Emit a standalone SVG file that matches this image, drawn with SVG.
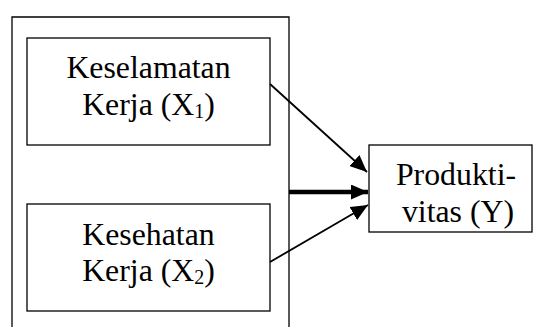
<svg xmlns="http://www.w3.org/2000/svg" width="533" height="327" viewBox="0 0 533 327">
<style>
.box{fill:#fff;stroke:#000;stroke-width:1.3}
.t{font-family:"Liberation Serif","Times New Roman",serif;font-size:31.8px;fill:#000;text-anchor:middle}
.sub{font-size:20px}
.ln{stroke:#000;stroke-width:1.8;fill:none}
.thick{stroke:#000;stroke-width:4.5;fill:none}
</style>
<defs>
<marker id="ah" viewBox="0 0 17 15" refX="17" refY="7.5" markerUnits="userSpaceOnUse" markerWidth="17" markerHeight="15" orient="auto">
<path d="M0,0 L17,7.5 L0,15 z" fill="#000"/>
</marker>
</defs>
<rect width="533" height="327" fill="#fff"/>
<g id="outer"><path class="box" d="M12,330 V17 H289 V330" fill="none"/></g>
<g id="x1">
<rect class="box" x="27" y="38" width="243" height="107"/>
<text class="t" x="148.5" y="78">Keselamatan</text>
<text class="t" x="148.5" y="115">Kerja (X<tspan class="sub" dy="3">1</tspan><tspan dy="-3">)</tspan></text>
</g>
<g id="x2">
<rect class="box" x="27" y="204" width="243" height="107"/>
<text class="t" x="148.5" y="245">Kesehatan</text>
<text class="t" x="148.5" y="281">Kerja (X<tspan class="sub" dy="3">2</tspan><tspan dy="-3">)</tspan></text>
</g>
<g id="y">
<rect class="box" x="369" y="145" width="163" height="87"/>
<text class="t" x="456" y="185">Produkti-</text>
<text class="t" x="458" y="222">vitas (Y)</text>
</g>
<g id="connectors">
<line class="ln" x1="270" y1="84" x2="367" y2="172" marker-end="url(#ah)"/>
<line class="thick" x1="289" y1="192" x2="368" y2="192" marker-end="url(#ah)"/>
<line class="ln" x1="270" y1="262" x2="368" y2="205" marker-end="url(#ah)"/>
</g>
</svg>
